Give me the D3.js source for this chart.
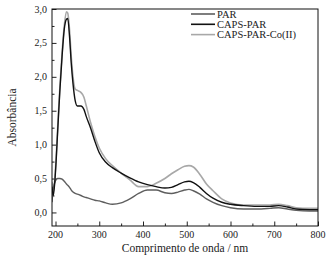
<!DOCTYPE html>
<html lang="pt">
<head>
    <meta charset="UTF-8">
    <title>Absorbância</title>
    <script src="https://d3js.org/d3.v7.min.js"></script>
    <style>
        body{ margin: 0; background: #fff; }
        svg{ display: block; }
        text{ font-family: "Liberation Serif", "DejaVu Serif", serif; fill: #222; }
    </style>
</head>
<body>
<script>
    const width = 328
    const height = 262

    // wavelengths (nm)
    const wavelength = [192,195,200,205,210,215,220,225,228,232,236,240,245,250,258,265,270,280,290,300,315,330,350,370,390,410,430,450,465,480,495,505,515,530,545,560,580,600,630,660,690,710,730,750,780,800]

    const par = [0.15,0.35,0.47,0.50,0.50,0.49,0.46,0.42,0.40,0.37,0.33,0.30,0.28,0.27,0.25,0.23,0.22,0.20,0.18,0.17,0.14,0.12,0.14,0.20,0.28,0.33,0.33,0.29,0.28,0.30,0.33,0.34,0.32,0.27,0.20,0.15,0.10,0.07,0.05,0.05,0.06,0.07,0.05,0.03,0.02,0.02]
    const capsPar = [0.38,0.25,0.60,1.20,1.80,2.30,2.70,2.85,2.86,2.60,2.20,1.90,1.65,1.57,1.57,1.52,1.42,1.25,1.05,0.88,0.74,0.66,0.58,0.51,0.45,0.41,0.38,0.36,0.37,0.41,0.45,0.46,0.44,0.37,0.28,0.21,0.15,0.12,0.10,0.09,0.09,0.10,0.08,0.05,0.04,0.04]
    const capsParCo = [0.45,0.30,0.65,1.25,1.85,2.35,2.75,2.96,2.94,2.70,2.30,2.00,1.82,1.80,1.77,1.70,1.58,1.33,1.12,0.95,0.79,0.69,0.58,0.48,0.38,0.38,0.43,0.50,0.57,0.63,0.68,0.69,0.67,0.56,0.42,0.32,0.20,0.14,0.11,0.11,0.11,0.12,0.10,0.07,0.06,0.06]

    const seriesNames = ["PAR", "CAPS-PAR", "CAPS-PAR-Co(II)"]
    const xTicks = [200,300,400,500,600,700,800]
    const yTicks = [0,0.5,1,1.5,2,2.5,3]

    const colors = {"PAR": "#5e5e5e", "CAPS-PAR": "#111111", "CAPS-PAR-Co(II)": "#a8a8a8"}
    const widths = {"PAR": 1.4, "CAPS-PAR": 1.4, "CAPS-PAR-Co(II)": 1.6}

    const series = [
        {name: "CAPS-PAR-Co(II)", values: capsParCo},
        {name: "PAR", values: par},
        {name: "CAPS-PAR", values: capsPar}
    ]

    const m = {left: 52, right: 10, top: 9, bottom: 36}

    let svg = d3.select("body").append("svg")
                .attr("width", width)
                .attr("height", height)

    const x = d3.scaleLinear().domain([192, 800]).range([m.left, width - m.right])
    const y = d3.scaleLinear().domain([-0.2, 3.0]).range([height - m.bottom, m.top])

    const fmt = d => d3.format(".1f")(d).replace(".", ",")

    // minor + major ticks, pointing inwards
    let xAxis = svg.append("g")
                   .attr("transform", `translate(0,${height - m.bottom})`)
    xAxis.call(d3.axisTop(x).tickValues(d3.range(250, 800, 100)).tickSize(2.5).tickFormat(""))
    xAxis.append("g").call(d3.axisTop(x).tickValues(xTicks).tickSize(4.5).tickFormat(""))
    xAxis.selectAll(".domain").remove()
    xAxis.selectAll("text").remove()
    xAxis.selectAll(".tl")
         .data(xTicks)
         .enter()
         .append("text")
         .attr("x", d => x(d))
         .attr("y", 12)
         .attr("text-anchor", "middle")
         .attr("font-size", 10)
         .text(d => d)

    let yAxis = svg.append("g")
                   .attr("transform", `translate(${m.left},0)`)
    yAxis.call(d3.axisRight(y).tickValues(d3.range(0.25, 3, 0.5)).tickSize(2.5).tickFormat(""))
    yAxis.append("g").call(d3.axisRight(y).tickValues(yTicks).tickSize(4.5).tickFormat(""))
    yAxis.selectAll(".domain").remove()
    yAxis.selectAll(".tl")
         .data(yTicks)
         .enter()
         .append("text")
         .attr("x", -5)
         .attr("y", d => y(d) + 3.5)
         .attr("text-anchor", "end")
         .attr("font-size", 10)
         .text(fmt)

    svg.selectAll(".tick line").attr("stroke", "#222")

    // clip the curves to the frame
    svg.append("clipPath").attr("id", "plot")
       .append("rect")
       .attr("x", m.left).attr("y", m.top)
       .attr("width", width - m.left - m.right)
       .attr("height", height - m.top - m.bottom)

    const line = d3.line()
                   .x((d, i) => x(wavelength[i]))
                   .y(d => y(d))
                   .curve(d3.curveMonotoneX)

    svg.append("g").attr("clip-path", "url(#plot)")
       .selectAll("path")
       .data(series)
       .enter()
       .append("path")
       .attr("fill", "none")
       .attr("stroke", d => colors[d.name])
       .attr("stroke-width", d => widths[d.name])
       .attr("stroke-linejoin", "round")
       .attr("d", d => line(d.values))

    // frame
    svg.append("rect")
       .attr("x", m.left).attr("y", m.top)
       .attr("width", width - m.left - m.right)
       .attr("height", height - m.top - m.bottom)
       .attr("fill", "none")
       .attr("stroke", "#111")
       .attr("stroke-width", 1)

    // legend
    let legend = svg.append("g").attr("transform", "translate(191,14)")
    let rows = legend.selectAll("g")
                     .data(seriesNames)
                     .enter()
                     .append("g")
                     .attr("transform", (d, i) => `translate(0,${i * 10.3})`)
    rows.append("line")
        .attr("x1", 0).attr("x2", 24)
        .attr("stroke", d => colors[d])
        .attr("stroke-width", 1.6)
    rows.append("text")
        .attr("x", 26)
        .attr("y", 3.5)
        .attr("font-size", 10.5)
        .text(d => d)

    // axis titles
    svg.append("text")
       .attr("x", (m.left + width - m.right) / 2)
       .attr("y", 252)
       .attr("text-anchor", "middle")
       .attr("font-size", 11.5)
       .text("Comprimento de onda / nm")

    svg.append("text")
       .attr("transform", `translate(16,${(m.top + height - m.bottom) / 2}) rotate(-90)`)
       .attr("text-anchor", "middle")
       .attr("font-size", 11.5)
       .text("Absorbância")
</script>
</body>
</html>
